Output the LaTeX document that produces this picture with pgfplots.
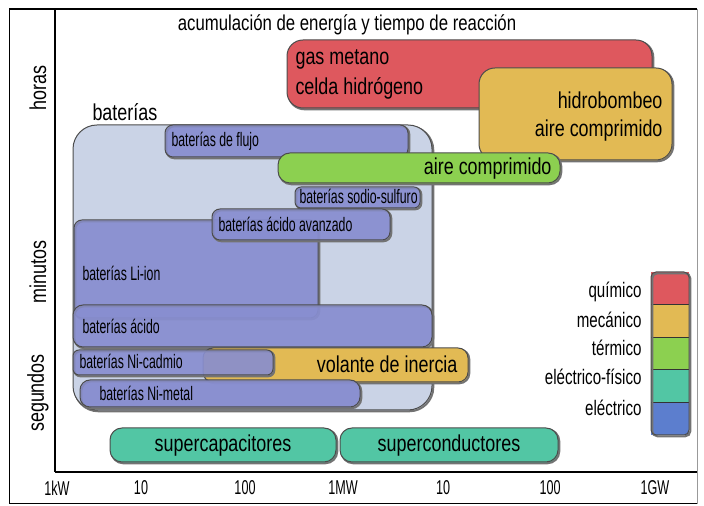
\documentclass[border=0pt]{standalone}
\usepackage{fontspec}
\setmainfont{Liberation Sans}
\newfontfamily\condA[FakeStretch=0.78]{Liberation Sans}
\newfontfamily\condB[FakeStretch=0.63]{Liberation Sans}
\newfontfamily\condC[FakeStretch=0.72]{Liberation Sans}
\usepackage{pgfplots}
\pgfplotsset{compat=1.18}
\definecolor{quim}{RGB}{222,88,94}
\definecolor{meca}{RGB}{226,186,84}
\definecolor{term}{RGB}{140,208,80}
\definecolor{elfis}{RGB}{82,198,164}
\definecolor{elec}{RGB}{92,126,206}
\definecolor{bat}{RGB}{136,142,208}
\definecolor{batbg}{RGB}{202,211,230}
\newcommand\lbl{\condA\fontsize{23bp}{25bp}\selectfont}
\newcommand\ttl{\condA\fontsize{21.5bp}{24bp}\selectfont}
\newcommand\sml{\condB\fontsize{19.5bp}{21bp}\selectfont}
\newcommand\leg{\condC\fontsize{21bp}{23bp}\selectfont}
\begin{document}
\begin{tikzpicture}[x=1bp,y=1bp]
\useasboundingbox (0,0) rectangle (704,506);
\begin{axis}[
    at={(55bp,34bp)}, anchor=south west,
    scale only axis, width=642bp, height=463bp,
    xmin=55, xmax=697, ymin=34, ymax=497,
    axis lines=left,
    axis line style={-, line width=1.6bp},
    xtick={57,141,245,343,443,550,655},
    xticklabels={1kW,10,100,1MW,10,100,1GW},
    ytick=\empty,
    major tick length=0pt,
    xticklabel style={font=\condB\fontsize{20bp}{20bp}\selectfont, yshift=-5bp},
    clip=false,
    box/.style={draw=black!70, line width=1bp, rounded corners=#1,
        preaction={draw=black!55, line width=2bp, transform canvas={shift={(1.3bp,-1.3bp)}}}},
    box/.default=12bp,
]
% quimico
\addplot[box=16bp, fill=quim] coordinates {(470,466) (652,466) (652,398) (287,398) (287,466)} --cycle;
% mecanico: hidrobombeo
\addplot[box=16bp, fill=meca] coordinates {(575,438) (672,438) (672,346) (479,346) (479,438)} --cycle;
% baterias (fondo)
\addplot[box=24bp, fill=batbg] coordinates {(250,381) (432,381) (432,96) (73,96) (73,381)} --cycle;
% baterias de flujo
\addplot[box=8bp, fill=bat, fill opacity=0.75] coordinates {(290,381) (408,381) (408,349) (165,349) (165,381)} --cycle;
% termico: aire comprimido
\addplot[box=12bp, fill=term] coordinates {(420,353) (560,353) (560,323) (278,323) (278,353)} --cycle;
% baterias sodio-sulfuro
\addplot[box=6bp, fill=bat, fill opacity=0.75] coordinates {(360,319) (420,319) (420,298) (295,298) (295,319)} --cycle;
% baterias Li-ion
\addplot[box=8bp, fill=bat, fill opacity=0.75] coordinates {(200,286) (318,286) (318,188) (74,188) (74,286)} --cycle;
% baterias acido avanzado
\addplot[box=8bp, fill=bat, fill opacity=0.75] coordinates {(300,297) (390,297) (390,266) (212,266) (212,297)} --cycle;
% baterias acido
\addplot[box=10bp, fill=bat, fill opacity=0.75] coordinates {(250,201) (432,201) (432,159) (73,159) (73,201)} --cycle;
% volante de inercia
\addplot[box=10bp, fill=meca] coordinates {(330,158) (468,158) (468,124) (203,124) (203,158)} --cycle;
% baterias Ni-cadmio
\addplot[box=6bp, fill=bat, fill opacity=0.7] coordinates {(170,156) (273,156) (273,131) (73,131) (73,156)} --cycle;
% baterias Ni-metal
\addplot[box=10bp, fill=bat, fill opacity=0.8] coordinates {(220,126) (360,126) (360,99) (80,99) (80,126)} --cycle;
% electrico-fisico
\addplot[box=12bp, fill=elfis] coordinates {(220,78) (336,78) (336,44) (110,44) (110,78)} --cycle;
\addplot[box=12bp, fill=elfis] coordinates {(450,78) (558,78) (558,44) (340,44) (340,78)} --cycle;
% leyenda
\addplot[draw=none, fill=quim] coordinates {(651,234) (689,234) (689,201.4) (651,201.4)} --cycle;
\addplot[draw=none, fill=meca] coordinates {(651,201.4) (689,201.4) (689,168.8) (651,168.8)} --cycle;
\addplot[draw=none, fill=term] coordinates {(651,168.8) (689,168.8) (689,136.2) (651,136.2)} --cycle;
\addplot[draw=none, fill=elfis] coordinates {(651,136.2) (689,136.2) (689,103.6) (651,103.6)} --cycle;
\addplot[draw=none, fill=elec] coordinates {(651,103.6) (689,103.6) (689,71) (651,71)} --cycle;
\addplot[draw=black!80, line width=0.8bp] coordinates {(651,201.4) (689,201.4)};
\addplot[draw=black!80, line width=0.8bp] coordinates {(651,168.8) (689,168.8)};
\addplot[draw=black!80, line width=0.8bp] coordinates {(651,136.2) (689,136.2)};
\addplot[draw=black!80, line width=0.8bp] coordinates {(651,103.6) (689,103.6)};
\addplot[box=5bp, fill=none] coordinates {(670,234) (689,234) (689,71) (651,71) (651,234)} --cycle;

% textos
\node[anchor=base, font=\ttl] at (axis cs:347,475) {acumulación de energía y tiempo de reacción};
\node[anchor=base west, font=\lbl] at (axis cs:292,441) {gas metano};
\node[anchor=base west, font=\lbl] at (axis cs:292,411) {celda hidrógeno};
\node[anchor=base east, font=\lbl] at (axis cs:666,397) {hidrobombeo};
\node[anchor=base east, font=\lbl] at (axis cs:666,369) {aire comprimido};
\node[anchor=base west, font=\lbl] at (axis cs:89,385) {baterías};
\node[anchor=base west, font=\sml] at (axis cs:168,359) {baterías de flujo};
\node[anchor=base east, font=\lbl] at (axis cs:555,331) {aire comprimido};
\node[anchor=base west, font=\sml] at (axis cs:296,302) {baterías sodio-sulfuro};
\node[anchor=base west, font=\sml] at (axis cs:215,274) {baterías ácido avanzado};
\node[anchor=base west, font=\sml] at (axis cs:79,225) {baterías Li-ion};
\node[anchor=base west, font=\sml] at (axis cs:79,172) {baterías ácido};
\node[anchor=base west, font=\sml] at (axis cs:76,137) {baterías Ni-cadmio};
\node[anchor=base east, font=\lbl] at (axis cs:461,133) {volante de inercia};
\node[anchor=base west, font=\sml] at (axis cs:96,105) {baterías Ni-metal};
\node[anchor=base, font=\lbl] at (axis cs:223,54) {supercapacitores};
\node[anchor=base, font=\lbl] at (axis cs:449,54) {superconductores};
\node[anchor=base east, font=\leg] at (axis cs:645,208) {químico};
\node[anchor=base east, font=\leg] at (axis cs:645,178) {mecánico};
\node[anchor=base east, font=\leg] at (axis cs:645,150) {térmico};
\node[anchor=base east, font=\leg] at (axis cs:645,121) {eléctrico-físico};
\node[anchor=base east, font=\leg] at (axis cs:645,90) {eléctrico};
\end{axis}
% marco y ejes
\draw[line width=1bp] (9,2) -- (9,497);
\draw[line width=0.8bp, black!40] (697,2) -- (697,497);
\draw[line width=1bp] (9,2) -- (697,2);
\draw[line width=2.5bp] (9,497) -- (697,497);
\node[rotate=90, font=\lbl] at (38,418) {horas};
\node[rotate=90, font=\lbl] at (38,234) {minutos};
\node[rotate=90, font=\lbl] at (38,113) {segundos};
\end{tikzpicture}
\end{document}
